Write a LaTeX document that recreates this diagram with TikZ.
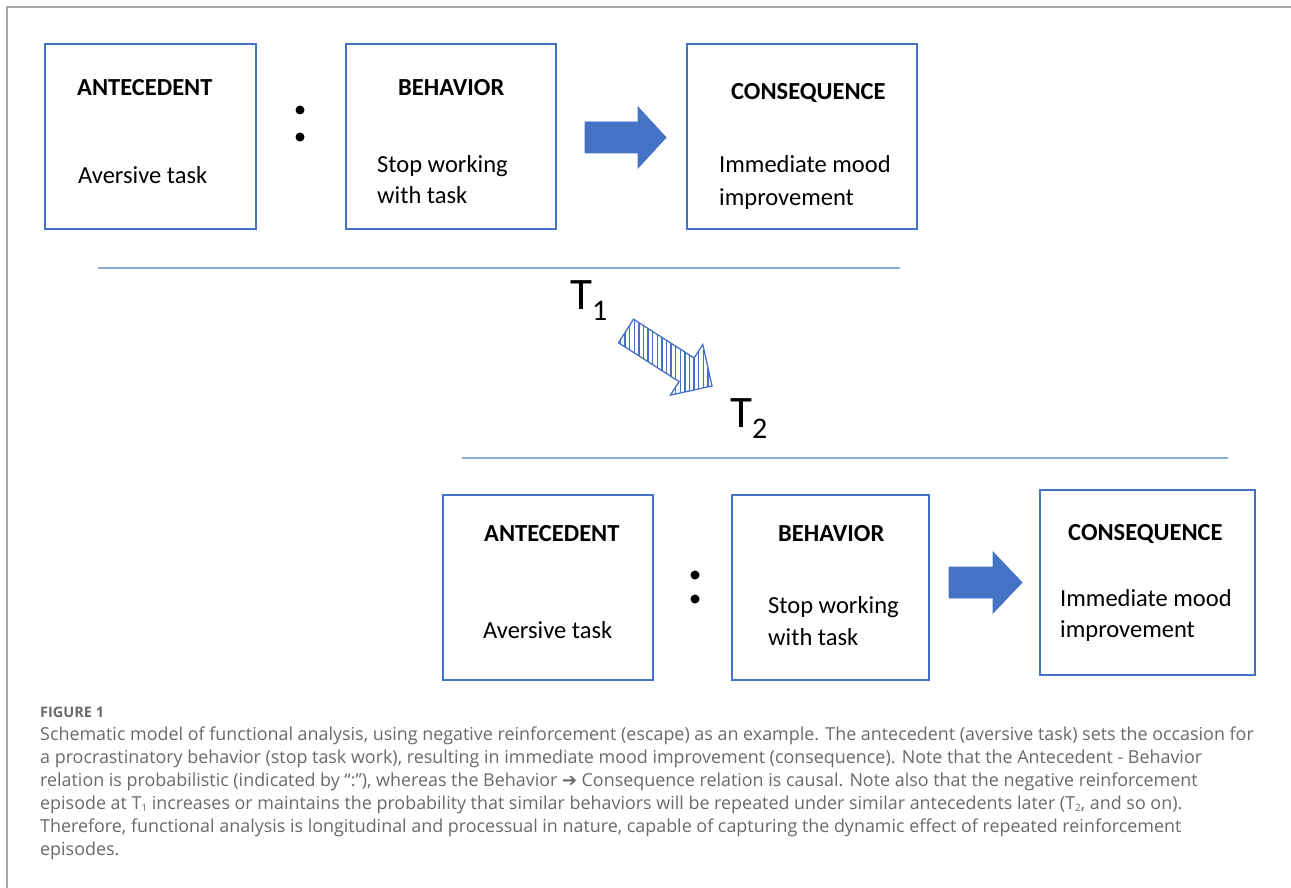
\documentclass[tikz,border=0pt]{standalone}
\usepackage{fontspec}
\setmainfont{Carlito}
\newfontfamily\capfont{Open Sans}
\newfontfamily\symfont{DejaVu Sans}
\definecolor{boxblue}{HTML}{4472C4}
\definecolor{lineblue}{HTML}{8FAADC}
\definecolor{capgray}{HTML}{6A6A6A}
\definecolor{framegray}{HTML}{A8A8A8}
\newcommand{\capsub}[1]{\raisebox{-2.5pt}{\fontsize{10}{10}\selectfont #1}}
\tikzset{
  box/.style={draw=boxblue, line width=1.3pt, inner sep=0pt},
  headtext/.style={anchor=base west, inner sep=0pt, font=\bfseries\fontsize{24.5}{30}\selectfont},
  bodytext/.style={anchor=base west, inner sep=0pt, font=\fontsize{24.5}{30}\selectfont},
  sepline/.style={draw=lineblue, line width=2pt},
  blockarrow/.style={fill=boxblue, draw=boxblue, line width=0.8pt, line join=miter},
  stripe/.style={draw=boxblue, line width=1.5pt},
  stripedoutline/.style={draw=boxblue, line width=1.3pt, line join=miter},
  tlabel/.style={anchor=base west, inner sep=0pt, font=\fontsize{45}{50}\selectfont},
  captext/.style={anchor=base west, inner sep=0pt, text=capgray, font=\capfont\fontsize{17.9}{22}\selectfont},
  dot/.style={fill=black}
}
\begin{document}
\begin{tikzpicture}[x=1pt,y=-1pt]
\useasboundingbox (0,0) rectangle (1291,888);
\fill[white] (0,0) rectangle (1291,888);
\draw[framegray, line width=2pt] (7,888) -- (7,7) -- (1291,7);

% top row boxes
\node[box, minimum width=211pt, minimum height=185pt] (ant1) at (150.5,136.5) {};
\node[box, minimum width=210pt, minimum height=185pt] (beh1) at (451,136.5) {};
\node[box, minimum width=230pt, minimum height=185pt] (con1) at (802,136.5) {};
\node[headtext] (ant1h) at (77,96) {ANTECEDENT};
\node[bodytext] (ant1b) at (78,183) {Aversive task};
\node[headtext] (beh1h) at (398,96) {BEHAVIOR};
\node[bodytext] (beh1b) at (377,172) {Stop working};
\node[bodytext] (beh1c) at (377,204) {with task};
\node[headtext] (con1h) at (731,100) {CONSEQUENCE};
\node[bodytext] (con1b) at (719,173) {Immediate mood};
\node[bodytext] (con1c) at (719,205) {improvement};
\fill[dot] (300,110) circle (4.5);
\fill[dot] (300,137) circle (4.5);
\path[blockarrow] (585,122) -- (638,122) -- (638,107) -- (666,137.5) -- (638,168) -- (638,153) -- (585,153) -- cycle;

% separator and time labels
\draw[sepline] (98,268) -- (900,268);
\node[tlabel] (t1) at (570,309) {T\raisebox{-11pt}{\fontsize{30}{30}\selectfont 1}};
\begin{scope}
  \clip (618.5,342.8) -- (633.5,319.2) -- (694.1,358.0) -- (702.8,344.5) -- (712,386) -- (670.4,395.1) -- (679.1,381.6) -- cycle;
  \foreach \sx in {620.5,625.1,...,716} { \draw[stripe] (\sx,310) -- (\sx,400); }
\end{scope}
\path[stripedoutline] (618.5,342.8) -- (633.5,319.2) -- (694.1,358.0) -- (702.8,344.5) -- (712,386) -- (670.4,395.1) -- (679.1,381.6) -- cycle;
\node[tlabel] (t2) at (730,427) {T\raisebox{-11pt}{\fontsize{30}{30}\selectfont 2}};
\draw[sepline] (462,458) -- (1228,458);

% bottom row boxes
\node[box, minimum width=210pt, minimum height=185pt] (ant2) at (548,587.5) {};
\node[box, minimum width=197pt, minimum height=185pt] (beh2) at (830.5,587.5) {};
\node[box, minimum width=215pt, minimum height=185pt] (con2) at (1147.5,582.5) {};
\node[headtext] (ant2h) at (484,541) {ANTECEDENT};
\node[bodytext] (ant2b) at (483,638) {Aversive task};
\node[headtext] (beh2h) at (778,541) {BEHAVIOR};
\node[bodytext] (beh2b) at (768,613) {Stop working};
\node[bodytext] (beh2c) at (768,645) {with task};
\node[headtext] (con2h) at (1068,540) {CONSEQUENCE};
\node[bodytext] (con2b) at (1060,606) {Immediate mood};
\node[bodytext] (con2c) at (1060,637) {improvement};
\fill[dot] (695,575) circle (4.5);
\fill[dot] (695,599) circle (4.5);
\path[blockarrow] (949,567) -- (993,567) -- (993,552) -- (1022,582.5) -- (993,613) -- (993,598) -- (949,598) -- cycle;

% caption
\node[captext, font=\capfont\bfseries\fontsize{14.5}{16}\selectfont] (fig) at (40,717) {FIGURE 1};
\node[captext] (c1) at (40,740) {Schematic model of functional analysis, using negative reinforcement (escape) as an example. The antecedent (aversive task) sets the occasion for};
\node[captext] (c2) at (40,763) {a procrastinatory behavior (stop task work), resulting in immediate mood improvement (consequence). Note that the Antecedent - Behavior};
\node[captext] (c3) at (40,786) {relation is probabilistic (indicated by “:”), whereas the Behavior {\symfont ➔} Consequence relation is causal. Note also that the negative reinforcement};
\node[captext] (c4) at (40,809) {episode at T\capsub{1} increases or maintains the probability that similar behaviors will be repeated under similar antecedents later (T\capsub{2}, and so on).};
\node[captext] (c5) at (40,832) {Therefore, functional analysis is longitudinal and processual in nature, capable of capturing the dynamic effect of repeated reinforcement};
\node[captext] (c6) at (40,855) {episodes.};
\end{tikzpicture}
\end{document}
